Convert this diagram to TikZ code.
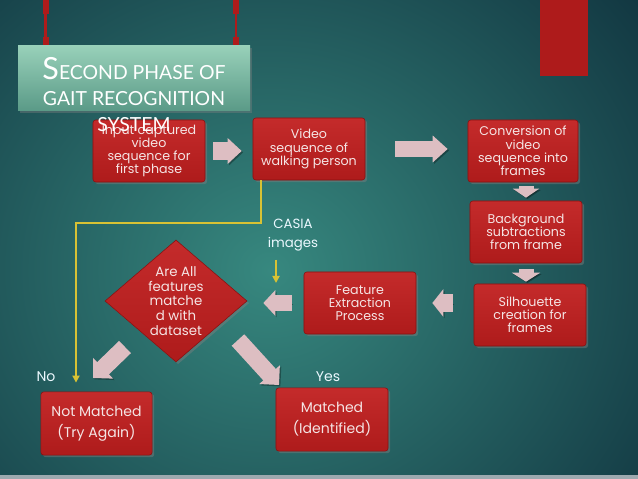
\documentclass[tikz,border=0pt]{standalone}
\usepackage{fontspec}
\setmainfont{Poppins}
\newfontfamily\titlefont{Lato}
\usetikzlibrary{arrows.meta,shapes.geometric,shadows}
\definecolor{bgdark}{HTML}{0B2836}
\definecolor{bglight}{HTML}{37887F}
\definecolor{boxred}{HTML}{AE1B1B}
\definecolor{boxredtop}{HTML}{C42B2B}
\definecolor{boxedge}{HTML}{8A1010}
\definecolor{boxtext}{HTML}{F5E4E4}
\definecolor{arrowpink}{HTML}{DDBEC2}
\definecolor{titletop}{HTML}{98D0B9}
\definecolor{titlebot}{HTML}{5A9A87}
\definecolor{linkyellow}{HTML}{D8C234}
\tikzset{
  stepbox/.style={rectangle, rounded corners=2pt, draw=boxedge, top color=boxredtop,
    bottom color=boxred, text=boxtext, align=center, minimum width=2.8cm,
    minimum height=1.55cm, inner sep=1pt, font=\fontsize{9}{9.4}\selectfont,
    drop shadow={opacity=0.45, shadow xshift=1.5pt, shadow yshift=-1.5pt}},
  resultbox/.style={stepbox, minimum height=1.58cm, font=\fontsize{10}{14.9}\selectfont},
  decision/.style={diamond, draw=boxedge, top color=boxredtop, bottom color=boxred,
    text=boxtext, align=center, shape aspect=1.16, inner sep=0pt,
    minimum width=3.55cm, minimum height=3.05cm, font=\fontsize{9.5}{10.4}\selectfont,
    drop shadow={opacity=0.45, shadow xshift=1.5pt, shadow yshift=-1.5pt}},
  note/.style={text=white!92!cyan, align=center, font=\fontsize{9.5}{13}\selectfont},
  blockarr/.style n args={3}{draw=arrowpink, line width=#1, -{Triangle[width=#2, length=#3]},
    preaction={draw=black, opacity=0.3, transform canvas={shift={(1pt,-1pt)}}}},
  linkline/.style={draw=linkyellow, line width=1.4pt, -{Triangle[width=5pt, length=5pt]}}
}
\begin{document}
\begin{tikzpicture}[x=0.025cm, y=-0.025cm]
\useasboundingbox (0,0) rectangle (638,479);
% background
\fill[bgdark] (0,0) rectangle (638,479);
\begin{scope}
  \clip (0,0) rectangle (638,479);
  \shade[inner color=bglight, outer color=bgdark] (270,270) ellipse (560 and 520);
\end{scope}
\fill[white!60!bgdark] (0,475) rectangle (638,479);
% hanging bars and top block
\foreach \x in {45.5,236} {
  \fill[boxred] (\x-3,0) rectangle (\x+3,14);
  \fill[boxred] (\x-1.2,14) rectangle (\x+1.2,38);
  \fill[boxred] (\x-3,37) rectangle (\x+3,55);
}
\fill[boxred] (540,0) rectangle (588,76);

% process boxes
\node[stepbox] (in1) at (149,151) {Input captured\\video\\sequence for\\first phase};
\node[stepbox] (vid) at (309,149) {Video\\sequence of\\walking person};
\node[stepbox, minimum width=2.75cm] (conv) at (523,151) {Conversion of\\video\\sequence into\\frames};
\node[stepbox] (bgs) at (526,232) {Background\\subtractions\\from frame};
\node[stepbox] (sil) at (530,315) {Silhouette\\creation for\\frames};
\node[stepbox] (feat) at (360,303) {Feature\\Extraction\\Process};
\node[decision] (diam) at (176,301) {Are All\\features\\matche\\d with\\dataset};
\node[resultbox, minimum width=2.78cm] (nomatch) at (96.5,423.5) {Not Matched\\(Try Again)};
\node[resultbox] (match) at (332,419.5) {Matched\\(Identified)};

% labels
\node[note] (casia) at (293,235) {CASIA\\images};
\node[note, font=\fontsize{10}{12}\selectfont] (no) at (46,377) {No};
\node[note, font=\fontsize{10}{12}\selectfont] (yes) at (328,377) {Yes};

% block arrows
\draw[blockarr={0.425cm}{0.625cm}{0.35cm}, shorten <=0.2cm, shorten >=0.275cm] (in1.east) -- (in1.east -| vid.west);
\draw[blockarr={0.4cm}{0.65cm}{0.375cm}, shorten <=0.75cm, shorten >=0.5cm] (vid.east) -- (vid.east -| conv.west);
\draw[blockarr={0.375cm}{0.65cm}{0.225cm}, shorten <=0.1cm, shorten >=0.075cm] (bgs.north |- conv.south) -- (bgs.north);
\draw[blockarr={0.375cm}{0.7cm}{0.225cm}, shorten <=0.15cm, shorten >=0.05cm] (bgs.south) -- (bgs.south |- sil.north);
\draw[blockarr={0.425cm}{0.675cm}{0.275cm}, shorten <=0.525cm, shorten >=0.4cm] (sil.west |- feat.east) -- (feat.east);
\draw[blockarr={0.4cm}{0.625cm}{0.3cm}, shorten <=0.3cm, shorten >=0.4cm] (feat.west) -- (feat.west -| diam.east);
\coordinate (nofrom) at (125,347);
\coordinate (noto) at (93,378);
\coordinate (yesfrom) at (238,340);
\coordinate (yesto) at (279,385);
\draw[blockarr={0.425cm}{0.7cm}{0.35cm}] (nofrom) -- (noto);
\draw[blockarr={0.425cm}{0.675cm}{0.35cm}] (yesfrom) -- (yesto);

% yellow links
\coordinate (ybend) at (261,223);
\coordinate (yturn) at (76,223);
\draw[linkline, shorten >=0.225cm] (vid.south -| ybend) -- (ybend) -- (yturn) -- (yturn |- nomatch.north);
\coordinate (casiatip) at (276,283);
\draw[linkline, shorten <=0.1cm] (casia.south -| casiatip) -- (casiatip);

% title
\fill[top color=titletop, bottom color=titlebot, drop shadow={opacity=0.4, shadow xshift=1.5pt, shadow yshift=-1.5pt}] (18,46) rectangle (250,111);
\node[anchor=north, inner sep=0pt, align=center, text=white, font=\titlefont\fontsize{13.8}{18.4}\selectfont] (title) at (134,57)
  {{\fontsize{21.7}{18.4}\selectfont S}ECOND PHASE OF\\GAIT RECOGNITION\\SYSTEM};
\end{tikzpicture}
\end{document}
